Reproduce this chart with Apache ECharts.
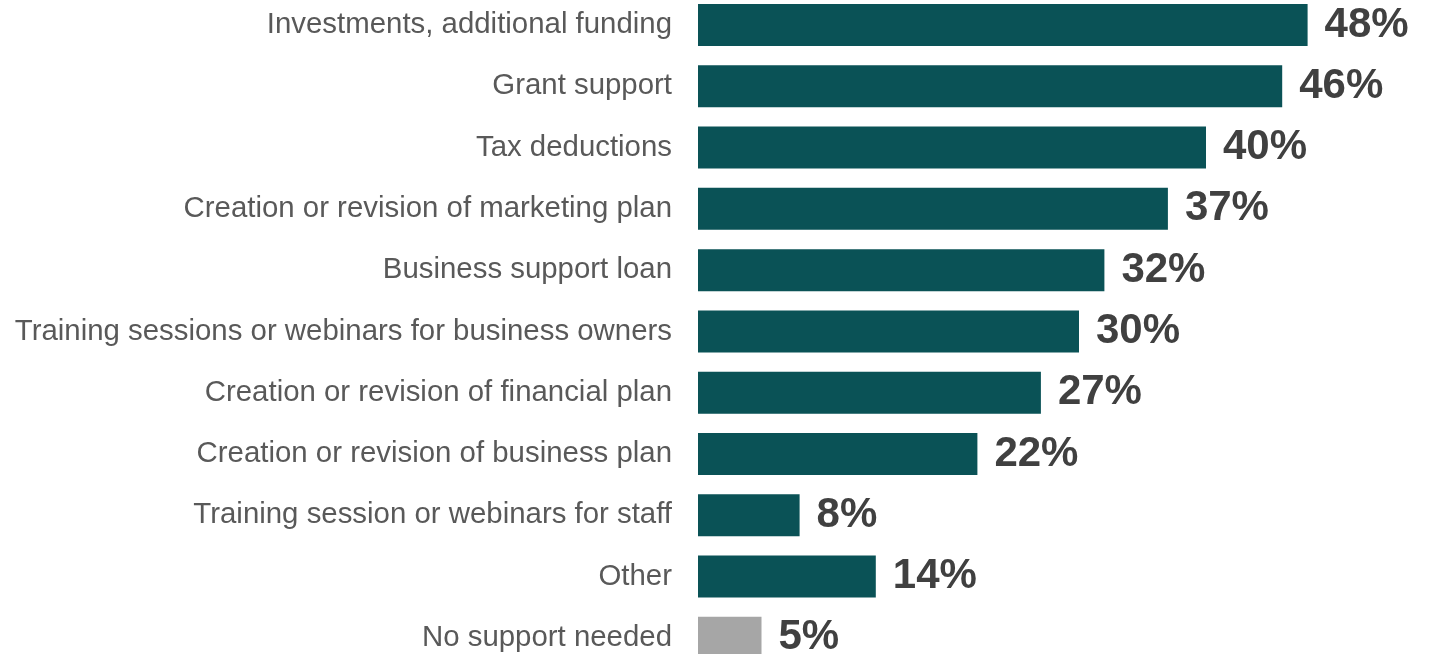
<!DOCTYPE html>
<html>
<head>
<meta charset="utf-8">
<style>
  html, body { margin: 0; padding: 0; background: #ffffff; }
  #chart { width: 1431px; height: 654px; }
</style>
<script src="https://cdn.jsdelivr.net/npm/echarts@6/dist/echarts.min.js"></script>
</head>
<body>
<div id="chart"></div>
<script>
// Types of support wanted, share of respondents (%)
const categories = [
  'Investments, additional funding',
  'Grant support',
  'Tax deductions',
  'Creation or revision of marketing plan',
  'Business support loan',
  'Training sessions or webinars for business owners',
  'Creation or revision of financial plan',
  'Creation or revision of business plan',
  'Training session or webinars for staff',
  'Other',
  'No support needed'
];
const shares = [48, 46, 40, 37, 32, 30, 27, 22, 8, 14, 5];
// the "no support" answer is drawn in neutral grey
const neutralCategories = ['No support needed'];

const TEAL = '#0a5256';
const GREY = '#a6a6a6';

const chart = echarts.init(document.getElementById('chart'), null, { renderer: 'canvas' });

chart.setOption({
  animation: false,
  backgroundColor: '#ffffff',
  textStyle: { fontFamily: 'Liberation Sans, Arial, sans-serif' },
  grid: {
    left: 698, right: 98, top: -5.6, height: 674,
    containLabel: false,
    outerBoundsMode: 'none'
  },
  xAxis: {
    type: 'value',
    min: 0,
    max: 50,
    show: false
  },
  yAxis: {
    type: 'category',
    inverse: true,
    data: categories,
    axisLine: { show: false },
    axisTick: { show: false },
    splitLine: { show: false },
    axisLabel: {
      margin: 26,
      fontSize: 29.4,
      color: '#595959',
      fontFamily: 'Liberation Sans, Arial, sans-serif'
    }
  },
  series: [{
    type: 'bar',
    barWidth: 42,
    data: shares.map((v, i) => ({
      value: v,
      itemStyle: { color: neutralCategories.includes(categories[i]) ? GREY : TEAL }
    })),
    label: {
      show: true,
      position: 'right',
      distance: 17,
      formatter: '{c}%',
      fontSize: 42,
      fontWeight: 'bold',
      color: '#404040',
      fontFamily: 'Liberation Sans, Arial, sans-serif'
    }
  }]
});
</script>
</body>
</html>
